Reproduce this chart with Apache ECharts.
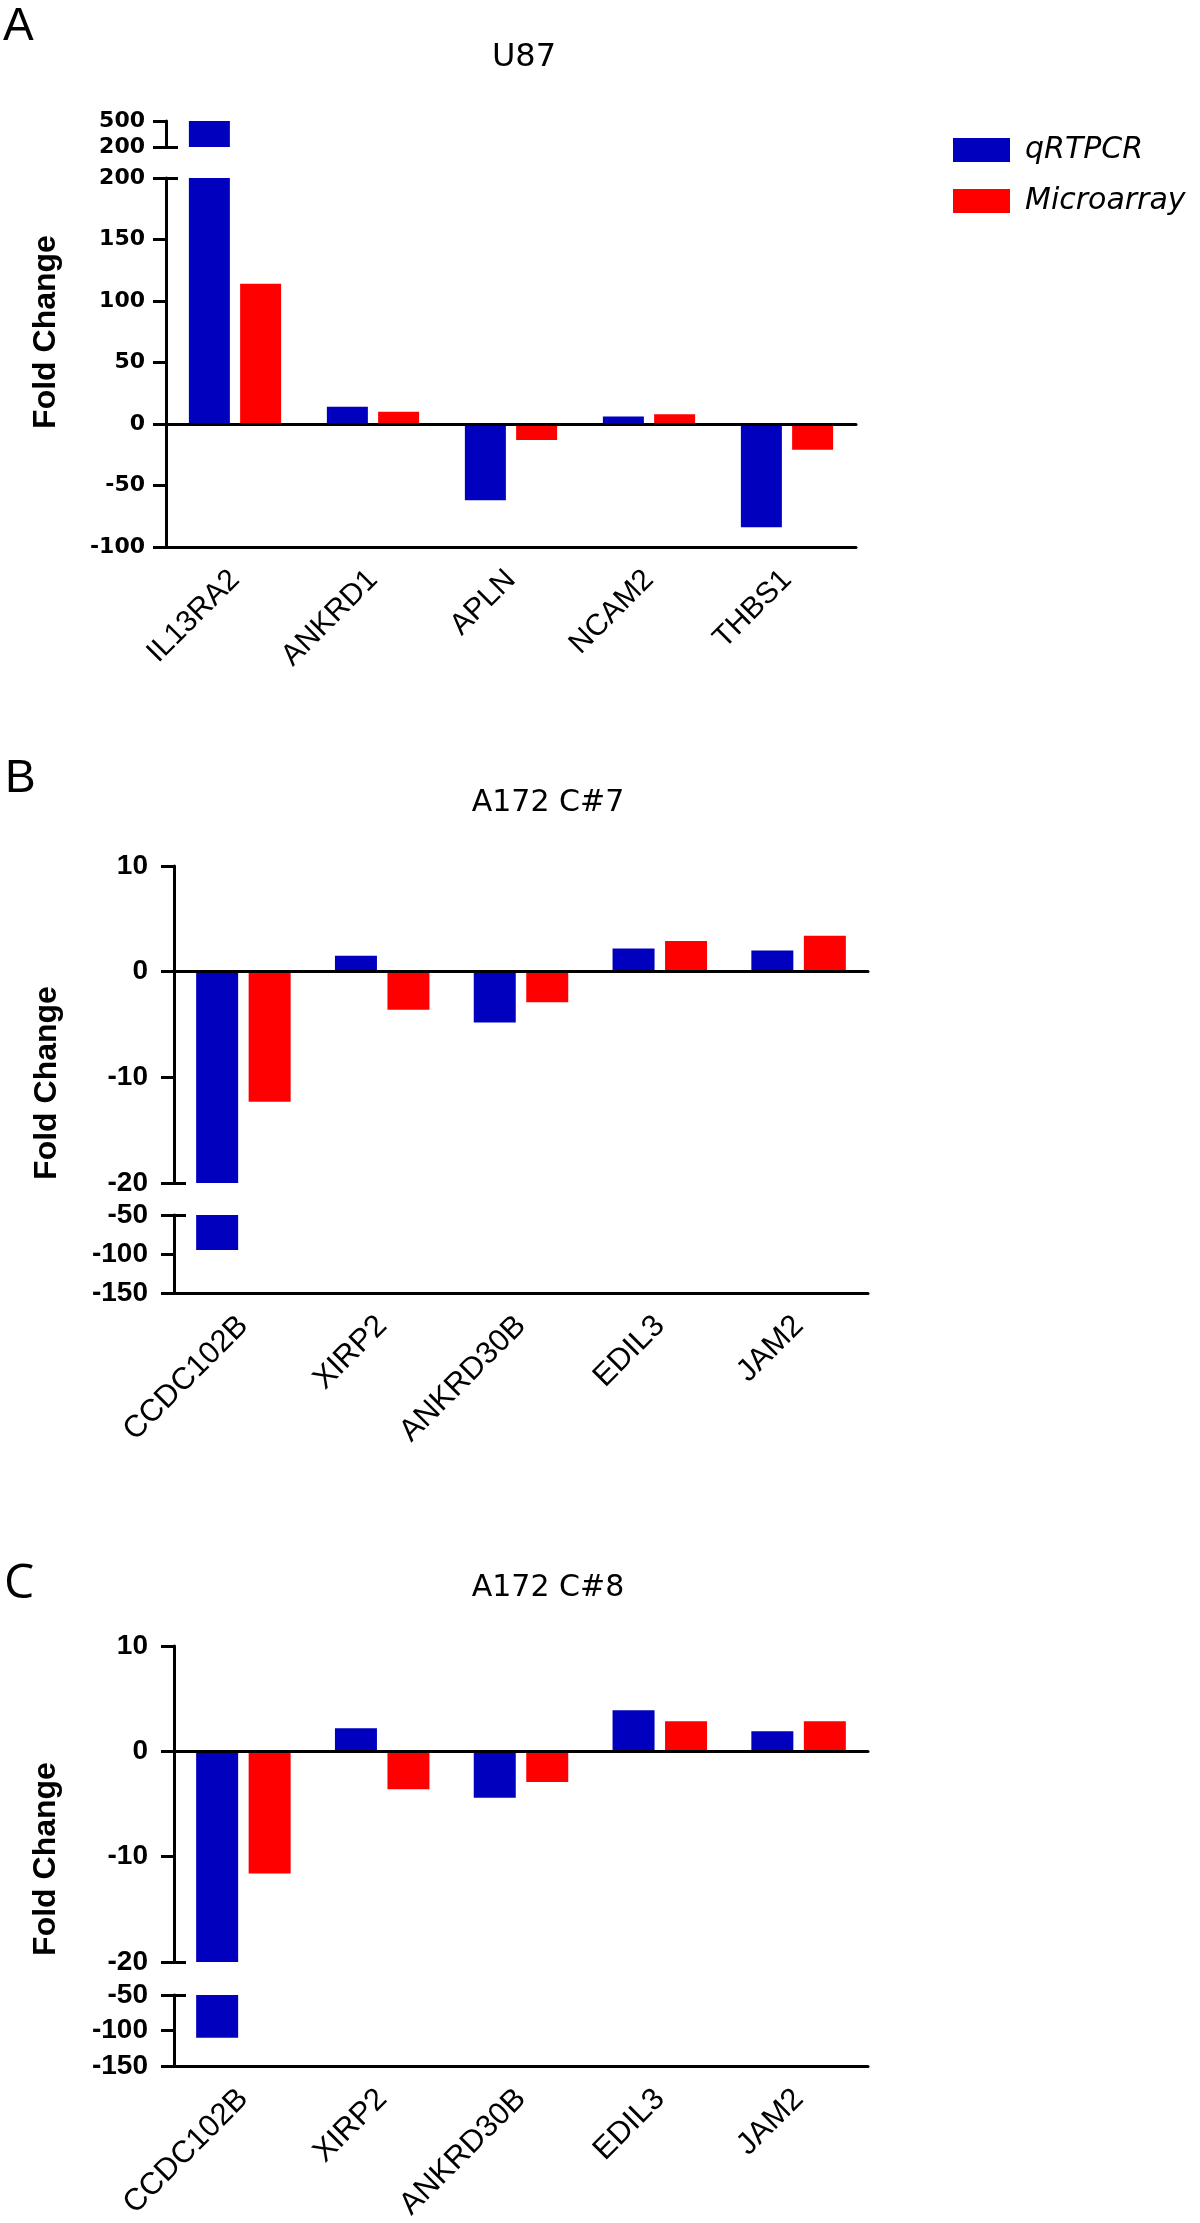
<!DOCTYPE html>
<html><head><meta charset="utf-8">
<script src="https://cdn.jsdelivr.net/npm/echarts@6/dist/echarts.min.js"></script>
<style>html,body{margin:0;padding:0;background:#fff}#c{width:1200px;height:2223px}</style>
</head><body><div id="c"></div>
<script>
// ---------- data ----------
const seriesNames = ['qRTPCR', 'Microarray'];
const titles = ['U87', 'A172 C#7', 'A172 C#8'];
const panelLetters = ['A', 'B', 'C'];
const yName = 'Fold Change';

const catsA = ['IL13RA2', 'ANKRD1', 'APLN', 'NCAM2', 'THBS1'];
const qpcrA = [520, 14, -62, 6, -84];
const microA = [114, 10, -13, 8, -21];

const catsB = ['CCDC102B', 'XIRP2', 'ANKRD30B', 'EDIL3', 'JAM2'];
const qpcrB = [-95, 1.5, -4.8, 2.2, 2.0];
const microB = [-12.3, -3.6, -2.9, 2.9, 3.4];

const catsC = ['CCDC102B', 'XIRP2', 'ANKRD30B', 'EDIL3', 'JAM2'];
const qpcrC = [-110, 2.2, -4.4, 3.9, 1.9];
const microC = [-11.6, -3.6, -2.9, 2.85, 2.85];

// axis segments [min, max, interval] and break values
const segAmain = [-100, 200, 50], segAtop = [200, 500, 300];
const segBmain = [-20, 10, 10], segBlow = [-150, -50, 50];
const segCmain = [-20, 10, 10], segClow = [-150, -50, 50];
const breakAmain = 200, breakAtop = 200, breakBmain = -20, breakBlow = -50, breakCmain = -20, breakClow = -50;

// ---------- styles / layout ----------
const BLUE = '#0000BE', RED = '#FF0000';
const grids = [
  {left: 166, top: 178, width: 690, height: 369},  // A main
  {left: 166, top: 121, width: 690, height: 26},   // A top
  {left: 174, top: 866, width: 694, height: 317},  // B main
  {left: 174, top: 1215, width: 694, height: 78},  // B low
  {left: 174, top: 1646, width: 694, height: 316}, // C main
  {left: 174, top: 1995, width: 694, height: 78}   // C low
];

const fontA = {fontFamily: 'DejaVu Sans', fontWeight: 'bold', fontSize: 22, margin: 21};
const fontBC = {fontFamily: 'Liberation Sans', fontWeight: 'bold', fontSize: 28, margin: 26};

function yAx(gi, seg, f) {
  return {type: 'value', gridIndex: gi, min: seg[0], max: seg[1], interval: seg[2], position: 'left',
    axisLine: {show: true, lineStyle: {color: '#000', width: 3}},
    axisTick: {show: true, length: 13, lineStyle: {color: '#000', width: 3}},
    axisLabel: {color: '#000', fontFamily: f.fontFamily, fontWeight: f.fontWeight, fontSize: f.fontSize, margin: f.margin},
    splitLine: {show: false}};
}
function yBreak(gi, seg, v) {
  return {type: 'value', gridIndex: gi, min: seg[0], max: seg[1], interval: seg[2], position: 'left',
    axisLine: {show: false},
    axisTick: {show: true, inside: true, length: 12, customValues: [v], lineStyle: {color: '#000', width: 3}},
    axisLabel: {show: false}, splitLine: {show: false}};
}
function xLabeled(gi, cats, fs) {
  return {type: 'category', gridIndex: gi, data: cats, position: 'bottom', z: 3,
    axisLine: {onZero: false, lineStyle: {color: '#000', width: 3}},
    axisTick: {alignWithLabel: true, length: 11, lineStyle: {color: '#000', width: 3}},
    axisLabel: {rotate: 45, interval: 0, color: '#000', fontFamily: 'Liberation Sans', fontSize: fs, margin: 28},
    splitLine: {show: false}};
}
function xZero(gi, cats) {
  return {type: 'category', gridIndex: gi, data: cats, position: 'bottom', z: 3,
    axisLine: {onZero: true, lineStyle: {color: '#000', width: 3}},
    axisTick: {show: false}, axisLabel: {show: false}, splitLine: {show: false}};
}
function xHidden(gi, cats) {
  return {type: 'category', gridIndex: gi, data: cats, show: false};
}
function bars(xi, yi, q, m, bw) {
  return [
    {name: seriesNames[0], type: 'bar', xAxisIndex: xi, yAxisIndex: yi, data: q, barWidth: bw, barGap: '25%', clip: true,
      itemStyle: {color: BLUE}},
    {name: seriesNames[1], type: 'bar', xAxisIndex: xi, yAxisIndex: yi, data: m, barWidth: bw, barGap: '25%', clip: true,
      itemStyle: {color: RED}}
  ];
}

const xAxis = [
  xLabeled(0, catsA, 30), // 0
  xZero(0, catsA),        // 1
  xHidden(1, catsA),      // 2
  xZero(2, catsB),        // 3
  xLabeled(3, catsB, 31), // 4
  xZero(4, catsC),        // 5
  xLabeled(5, catsC, 31)  // 6
];
const yAxis = [
  yAx(0, segAmain, fontA), yAx(1, segAtop, fontA),
  yAx(2, segBmain, fontBC), yAx(3, segBlow, fontBC),
  yAx(4, segCmain, fontBC), yAx(5, segClow, fontBC),
  yBreak(0, segAmain, breakAmain), yBreak(1, segAtop, breakAtop),
  yBreak(2, segBmain, breakBmain), yBreak(3, segBlow, breakBlow),
  yBreak(4, segCmain, breakCmain), yBreak(5, segClow, breakClow)
];
const series = [].concat(
  bars(0, 0, qpcrA, microA, 41),
  bars(2, 1, qpcrA, microA, 41),
  bars(3, 2, qpcrB, microB, 42),
  bars(4, 3, qpcrB, microB, 42),
  bars(5, 4, qpcrC, microC, 42),
  bars(6, 5, qpcrC, microC, 42)
);

function txt(text, x, y, font, rot, align) {
  return {type: 'text', x: x, y: y, rotation: rot || 0,
    style: {text: text, font: font, fill: '#000', textAlign: align || 'center', textVerticalAlign: 'middle'}};
}
const graphic = [
  txt(panelLetters[0], 3, 27, '46px "Liberation Sans"', 0, 'left'),
  txt(panelLetters[1], 5, 779, '46px "Liberation Sans"', 0, 'left'),
  txt(panelLetters[2], 4, 1584, '48px "Open Sans"', 0, 'left'),
  txt(titles[0], 524, 58, '32px "DejaVu Sans"'),
  txt(titles[1], 548, 803, '30px "DejaVu Sans"'),
  txt(titles[2], 548, 1588, '30px "DejaVu Sans"'),
  txt(yName, 46, 332, 'bold 32px "Liberation Sans"', Math.PI / 2),
  txt(yName, 47, 1083, 'bold 32px "Liberation Sans"', Math.PI / 2),
  txt(yName, 46, 1859, 'bold 32px "Liberation Sans"', Math.PI / 2)
];

const chart = echarts.init(document.getElementById('c'), null, {renderer: 'canvas'});
chart.setOption({
  animation: false,
  backgroundColor: '#fff',
  grid: grids,
  xAxis: xAxis,
  yAxis: yAxis,
  series: series,
  legend: {data: seriesNames, orient: 'vertical', left: 953, top: 135, padding: 0,
    itemWidth: 57, itemHeight: 24, itemGap: 21, icon: 'rect', selectedMode: false,
    textStyle: {fontFamily: 'DejaVu Sans', fontStyle: 'italic', fontSize: 30, color: '#000', lineHeight: 24, padding: [0, 0, 0, 10]}},
  graphic: graphic
});
</script></body></html>
